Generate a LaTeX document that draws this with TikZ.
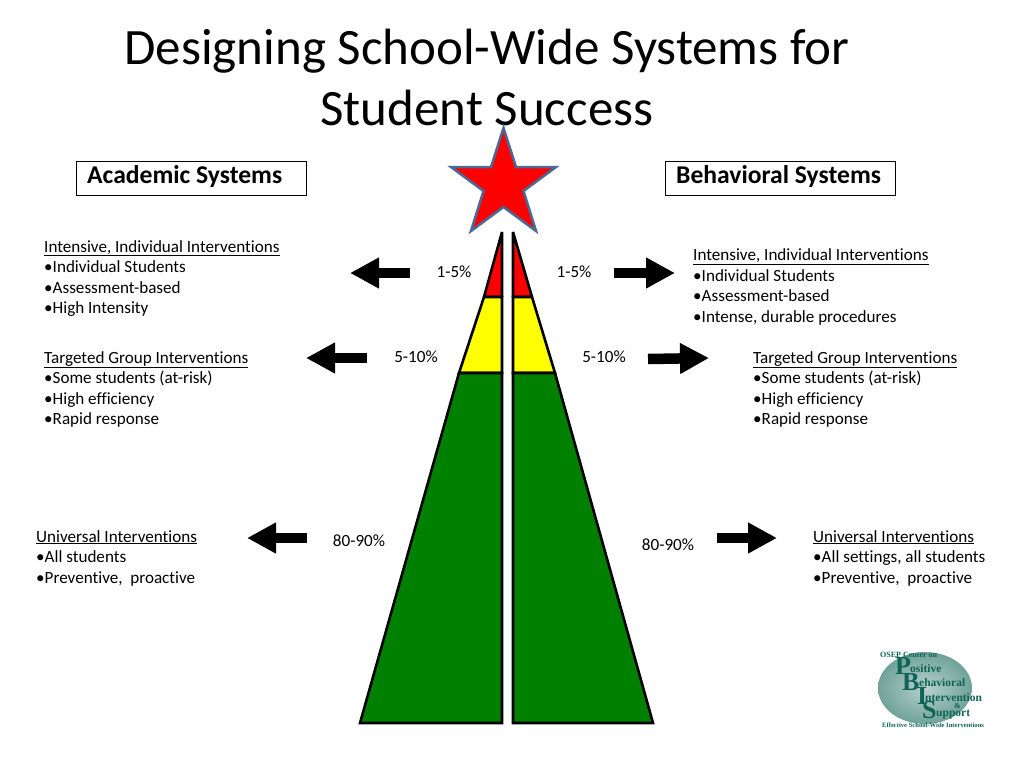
\documentclass[tikz,border=0pt]{standalone}
\usepackage{fontspec}
\setmainfont{Carlito}[Ligatures=NoCommon]
\newfontfamily\logofont{Liberation Serif}
\usetikzlibrary{arrows.meta,shapes.geometric}
\definecolor{pyrgreen}{RGB}{0,128,0}
\definecolor{pyrred}{RGB}{255,0,0}
\definecolor{pyryellow}{RGB}{255,255,0}
\definecolor{starblue}{RGB}{75,105,150}
\definecolor{logogreen}{RGB}{15,100,85}
\tikzset{
  side/.style={draw=black, line width=2.6pt, line join=miter},
  tip/.style={draw=black, line width=2.6pt, line join=bevel},
  box/.style={draw=black, line width=0.8pt, minimum width=230pt, minimum height=34pt, inner sep=0pt},
  boxlabel/.style={font=\fontsize{25.6}{28}\selectfont\bfseries, inner sep=0pt, anchor=base west},
  title/.style={font=\fontsize{51}{61}\selectfont, align=center, inner sep=0pt},
  info/.style={font=\fontsize{17.1}{20.5}\selectfont, align=left, inner sep=0pt, anchor=north west},
  pct/.style={font=\fontsize{17.1}{20}\selectfont, inner sep=0pt},
  arrow/.style={-{Triangle[length=29pt,width=29pt]}, draw=black, line width=10.5pt},
  logobig/.style={text=logogreen, inner sep=0pt, anchor=base west, font=\logofont\bfseries\fontsize{26}{26}\selectfont},
  logosmall/.style={text=logogreen, inner sep=0pt, anchor=base west, font=\logofont\bfseries\fontsize{11.5}{12}\selectfont}
}
\begin{document}
\begin{tikzpicture}[x=1pt,y=-1pt]
  \useasboundingbox (0,0) rectangle (1024,768);
  % Title
  \node[title] (title) at (487,77) {Designing School-Wide Systems for\\Student Success};

  % Header boxes
  \node[box] (acbox) at (191.5,178.5) {};
  \node[box] (behbox) at (780.5,178.5) {};
  \node[boxlabel] (aclabel) at (87,183) {Academic Systems};
  \node[boxlabel] (behlabel) at (676,183) {Behavioral Systems};

  % Left half of pyramid
  \coordinate (Ltop) at (502,232);
  \coordinate (La) at (484,297);
  \coordinate (Lb) at (459,373);
  \coordinate (Lc) at (360,723);
  \coordinate (Lma) at (502,297);
  \coordinate (Lmb) at (502,373);
  \coordinate (Lbot) at (502,723);
  \draw[tip, fill=pyrred] (Ltop)--(La)--(Lma)--cycle;
  \draw[side, fill=pyryellow] (La)--(Lb)--(Lmb)--(Lma)--cycle;
  \draw[side, fill=pyrgreen] (Lb)--(Lc)--(Lbot)--(Lmb)--cycle;

  % Right half of pyramid
  \coordinate (Rtop) at (513,232);
  \coordinate (Ra) at (532,297);
  \coordinate (Rb) at (555,373);
  \coordinate (Rc) at (653,723);
  \coordinate (Rma) at (513,297);
  \coordinate (Rmb) at (513,373);
  \coordinate (Rbot) at (513,723);
  \draw[tip, fill=pyrred] (Rtop)--(Ra)--(Rma)--cycle;
  \draw[side, fill=pyryellow] (Ra)--(Rb)--(Rmb)--(Rma)--cycle;
  \draw[side, fill=pyrgreen] (Rb)--(Rc)--(Rbot)--(Rmb)--cycle;

  % Star
  \draw[draw=starblue, line width=2.5pt, fill=pyrred, line join=miter]
    (503.5,128) -- (516,167) -- (556,167) -- (523.5,191) -- (536,231)
    -- (503.5,207) -- (471,231) -- (483.5,191) -- (451,167) -- (491,167) -- cycle;

  % Percent labels
  \node[pct] (pctla) at (454,272) {1-5\%};
  \node[pct] (pctra) at (574,272) {1-5\%};
  \node[pct] (pctlb) at (416,357) {5-10\%};
  \node[pct] (pctrb) at (604,357) {5-10\%};
  \node[pct] (pctlc) at (359,540.5) {80-90\%};
  \node[pct] (pctrc) at (668,544.5) {80-90\%};

  % Block arrows
  \coordinate (ala) at (410,273);
  \coordinate (alb) at (350,273);
  \coordinate (arla) at (614,273);
  \coordinate (arlb) at (675,273);
  \coordinate (bla) at (367,358);
  \coordinate (blb) at (306,358);
  \coordinate (brla) at (648,359);
  \coordinate (brlb) at (709,358);
  \coordinate (cla) at (307,538);
  \coordinate (clb) at (247,538);
  \coordinate (crla) at (717,538);
  \coordinate (crlb) at (777,538);
  \draw[arrow] (ala) -- (alb);
  \draw[arrow] (arla) -- (arlb);
  \draw[arrow] (bla) -- (blb);
  \draw[arrow] (brla) -- (brlb);
  \draw[arrow] (cla) -- (clb);
  \draw[arrow] (crla) -- (crlb);

  % Left texts
  \node[info] (lefta) at (44,240) {\underline{Intensive, Individual Interventions}\\•Individual Students\\•Assessment-based\\•High Intensity};
  \node[info] (leftb) at (44,351) {\underline{Targeted Group Interventions}\\•Some students (at-risk)\\•High efficiency\\•Rapid response};
  \node[info] (leftc) at (36,530) {\underline{Universal Interventions}\\•All students\\•Preventive,~ proactive};

  % Right texts
  \node[info] (righta) at (693,248.5) {\underline{Intensive, Individual Interventions}\\•Individual Students\\•Assessment-based\\•Intense, durable procedures};
  \node[info] (rightb) at (753,351) {\underline{Targeted Group Interventions}\\•Some students (at-risk)\\•High efficiency\\•Rapid response};
  \node[info] (rightc) at (813,530) {\underline{Universal Interventions}\\•All settings, all students\\•Preventive,~ proactive};

  % Logo
  \shade[inner color=white!70!logogreen, outer color=logogreen!60] (925,688) ellipse [x radius=47, y radius=36];
  \node[logosmall, font=\logofont\bfseries\fontsize{8}{9}\selectfont] (logoa) at (880,657) {OSEP Center on};
  \node[logobig] (logop) at (895,674) {P};
  \node[logosmall] (logob) at (910,672) {ositive};
  \node[logobig] (logoc) at (902,690) {B};
  \node[logosmall] (logod) at (919,686) {ehavioral};
  \node[logobig] (logoe) at (917,704) {I};
  \node[logosmall] (logof) at (925,701) {ntervention};
  \node[logosmall, font=\logofont\bfseries\fontsize{8}{9}\selectfont] (logog) at (954,708) {\&};
  \node[logobig] (logoh) at (922,718) {S};
  \node[logosmall] (logoi) at (936,716) {upport};
  \node[logosmall, font=\logofont\bfseries\fontsize{6.6}{7}\selectfont] (logoj) at (882,727) {Effective School-Wide Interventions};
\end{tikzpicture}
\end{document}
